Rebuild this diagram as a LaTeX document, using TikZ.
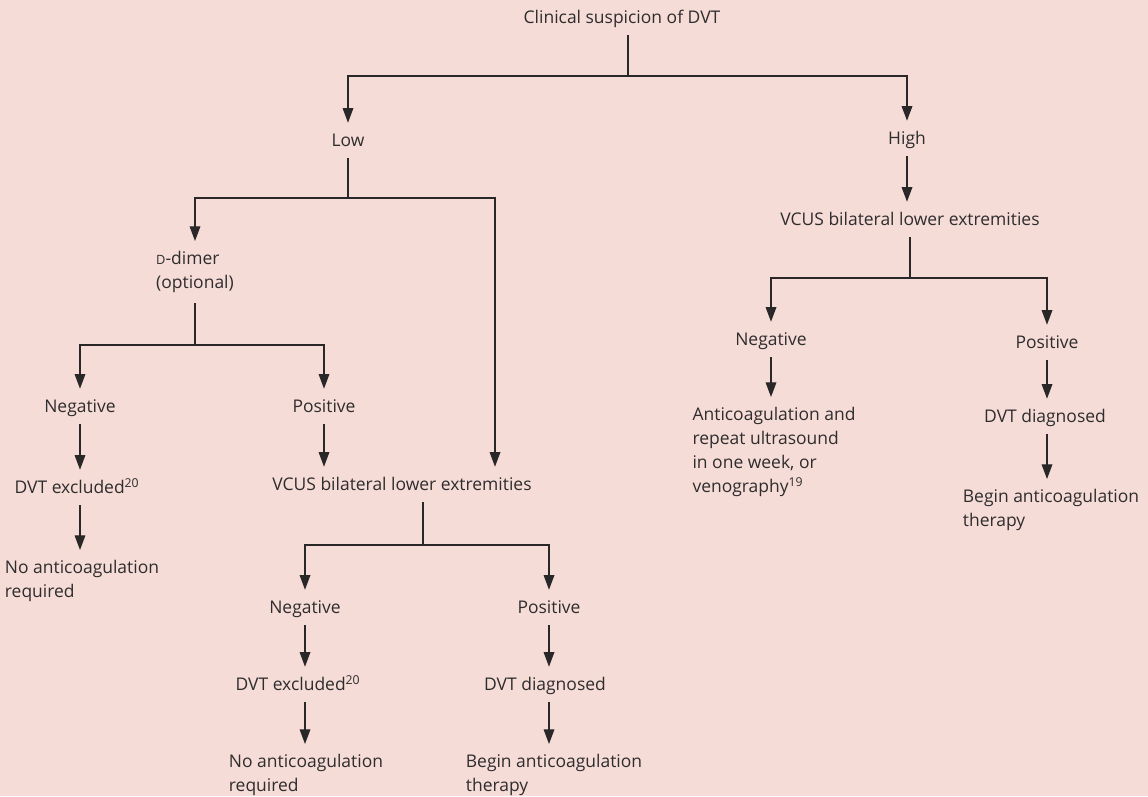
\documentclass[tikz,border=0pt]{standalone}
\usepackage{fontspec}
\setmainfont{Open Sans}
\usepackage{tikz}
\usetikzlibrary{arrows.meta}
\definecolor{Ink}{HTML}{2E2C2D}
\definecolor{Wire}{HTML}{2A2728}
\definecolor{Blush}{HTML}{F6DCD7}
\tikzset{
  txt/.style={inner xsep=1pt,inner ysep=7.5pt,text=Ink,font=\fontsize{13.1pt}{18pt}\selectfont},
  lbl/.style={txt,anchor=base,text height=9.75pt,text depth=1.5pt},
  note/.style={txt,anchor=north,align=left},
  wire/.style={line width=0.9pt,draw=Wire},
  arrow/.style={wire,-{Triangle[length=11pt,width=8pt]}}
}
\newcommand{\smallD}{{\fontsize{9.6pt}{10pt}\selectfont D}}

\begin{document}
\begin{tikzpicture}[x=0.75pt,y=-0.75pt]
\useasboundingbox (0,0) rectangle (1148,796);
\fill[Blush] (0,0) rectangle (1148,796);
% top level
\node[lbl] (root) at (622,23) {Clinical suspicion of DVT};
\node[lbl] (low) at (348,146) {Low};
\node[lbl] (high) at (907,144) {High};
% low branch
\node[note] (ddim) at (195,241) {\smallD-dimer\\(optional)};
\node[lbl] (negL) at (80,412) {Negative};
\node[lbl] (posL) at (324,412) {Positive};
\node[lbl] (exclL) at (77,493) {DVT excluded\textsuperscript{20}};
\node[note] (noacL) at (82,550) {No anticoagulation\\required};
\node[lbl] (vcusL) at (402,490) {VCUS bilateral lower extremities};
\node[lbl] (negM) at (305,613) {Negative};
\node[lbl] (posM) at (549,613) {Positive};
\node[lbl] (exclM) at (298,690) {DVT excluded\textsuperscript{20}};
\node[lbl] (diagM) at (545,690) {DVT diagnosed};
\node[note] (noacM) at (306,744) {No anticoagulation\\required};
\node[note] (beginM) at (554,744) {Begin anticoagulation\\therapy};
% high branch
\node[lbl] (vcusR) at (910,225) {VCUS bilateral lower extremities};
\node[lbl] (negR) at (771,345) {Negative};
\node[lbl] (posR) at (1047,348) {Positive};
\node[note] (antic) at (774,397) {Anticoagulation and\\repeat ultrasound\\in one week, or\\venography\textsuperscript{19}};
\node[lbl] (diagR) at (1045,422) {DVT diagnosed};
\node[note] (beginR) at (1051,479) {Begin anticoagulation\\therapy};

\coordinate (s0) at (628,76);
\coordinate (s1) at (348,198);
\coordinate (jL) at (495,198);
\coordinate (s2) at (195,345);
\coordinate (s3) at (423,545);
\coordinate (s4) at (910,278);

\draw[wire] (root.south -| s0) -- (s0);
\draw[arrow] (s0) -| (low);
\draw[arrow] (s0) -| (high);
\draw[wire] (low) -- (s1);
\draw[arrow] (s1) -| (ddim);
\draw[arrow] (s1) -- (jL) -- (jL |- vcusL.north);
\draw[wire] (ddim) -- (s2);
\draw[arrow] (s2) -| (negL);
\draw[arrow] (s2) -| (posL);
\draw[arrow] (negL) -- (negL |- exclL.north);
\draw[arrow] (exclL.south -| negL) -- (noacL.north -| negL);
\draw[arrow] (posL) -- (posL |- vcusL.north);
\draw[wire] (vcusL.south -| s3) -- (s3);
\draw[arrow] (s3) -| (negM);
\draw[arrow] (s3) -| (posM);
\draw[arrow] (negM) -- (negM |- exclM.north);
\draw[arrow] (exclM.south -| negM) -- (noacM.north -| negM);
\draw[arrow] (posM) -- (posM |- diagM.north);
\draw[arrow] (diagM.south -| posM) -- (beginM.north -| posM);
\draw[arrow] (high) -- (high |- vcusR.north);
\draw[wire] (vcusR) -- (s4);
\draw[arrow] (s4) -| (negR);
\draw[arrow] (s4) -| (posR);
\draw[arrow] (negR) -- (negR |- antic.north);
\draw[arrow] (posR) -- (posR |- diagR.north);
\draw[arrow] (diagR.south -| posR) -- (beginR.north -| posR);
\end{tikzpicture}
\end{document}
